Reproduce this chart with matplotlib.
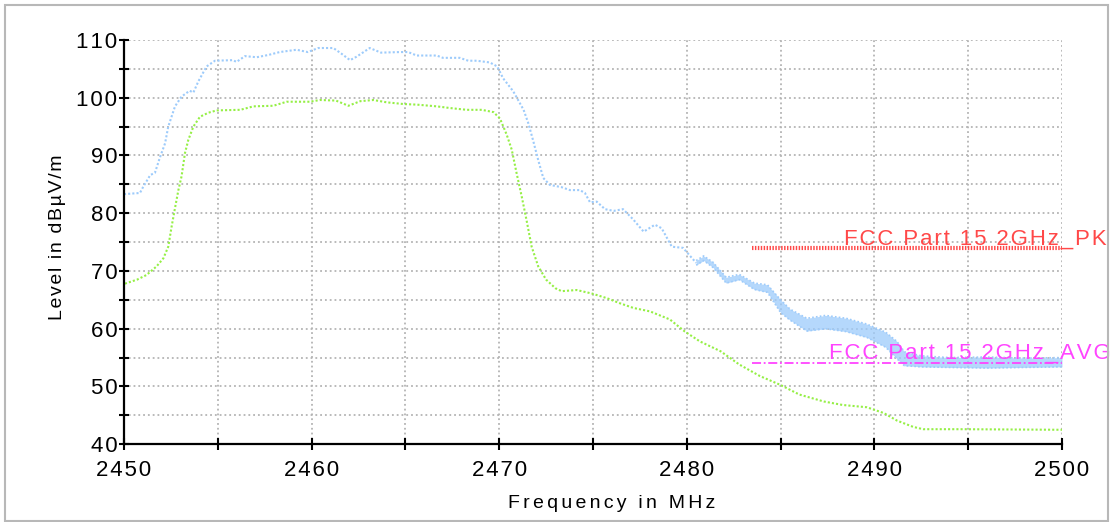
import numpy as np
import matplotlib.pyplot as plt
from matplotlib.patches import Rectangle
from matplotlib.ticker import MultipleLocator, FuncFormatter

plt.rcParams['font.family'] = ['Liberation Sans', 'DejaVu Sans']

# peak detector trace (MHz, dBuV/m), single sweep part
pk_freq = [2450.0, 2450.85, 2451.03, 2451.4, 2451.65, 2451.9, 2452.19, 2452.36, 2452.72, 2453.07,
           2453.5, 2453.7, 2453.96, 2454.4, 2454.85, 2455.8, 2456.0, 2456.45, 2457.07, 2457.7,
           2458.3, 2459.2, 2459.8, 2460.35, 2461.16, 2461.6, 2462.05, 2462.4, 2463.1, 2463.7,
           2464.7, 2465.15, 2465.6, 2466.67, 2467.0, 2467.9, 2468.35, 2468.8, 2469.5, 2469.9,
           2470.2, 2470.75, 2471.3, 2471.55, 2471.8, 2472.08, 2472.35, 2472.7, 2473.33, 2473.77,
           2474.3, 2474.57, 2474.84, 2475.2, 2475.64, 2476.1, 2476.6, 2477.15, 2477.7, 2478.3,
           2478.66, 2479.2, 2479.8, 2480.5]
pk_level = [83.3, 83.5, 84.6, 86.6, 87.0, 89.5, 92.1, 95.0, 98.5, 100.2,
            101.2, 100.9, 102.8, 105.4, 106.4, 106.5, 106.2, 107.2, 107.0, 107.4,
            107.9, 108.3, 107.9, 108.6, 108.6, 107.6, 106.5, 107.1, 108.6, 107.8,
            107.9, 107.9, 107.3, 107.3, 106.9, 106.9, 106.4, 106.4, 106.1, 105.4,
            103.4, 101.1, 97.9, 95.6, 92.7, 89.2, 86.1, 84.9, 84.5, 84.0,
            84.0, 83.5, 81.9, 82.0, 80.7, 80.4, 80.7, 78.9, 76.8, 78.0,
            77.4, 74.2, 74.0, 71.4]

# noisy part of the peak trace: upper / lower envelope
band_freq = [2480.5, 2480.9, 2481.4, 2482.1, 2482.8, 2483.6, 2484.3, 2485.0, 2485.5, 2486.4,
             2487.4, 2488.5, 2489.6, 2490.6, 2491.2, 2491.6, 2492.5, 2494.0, 2496.0, 2498.0, 2500.0]
band_hi = [71.8, 72.6, 71.5, 68.9, 69.4, 67.9, 67.6, 65.0, 63.4, 61.8,
           62.3, 61.8, 60.8, 59.4, 57.8, 56.0, 55.3, 55.0, 55.1, 54.9, 55.0]
band_lo = [71.0, 71.8, 70.6, 67.9, 68.5, 66.8, 66.3, 62.8, 61.5, 59.6,
           60.0, 59.5, 58.5, 56.8, 54.8, 53.6, 53.4, 53.3, 53.2, 53.3, 53.4]

# average detector trace
av_freq = [2450.05, 2450.7, 2451.2, 2451.74, 2452.1, 2452.36, 2452.54, 2452.72, 2452.9, 2453.07,
           2453.25, 2453.43, 2453.7, 2454.05, 2454.5, 2454.94, 2456.2, 2456.9, 2457.96, 2458.67,
           2459.9, 2460.45, 2461.3, 2461.96, 2462.6, 2463.3, 2464.0, 2464.9, 2465.6, 2466.67,
           2467.4, 2468.27, 2469.07, 2469.7, 2470.04, 2470.4, 2470.67, 2470.93, 2471.2, 2471.47,
           2471.73, 2472.08, 2472.5, 2473.0, 2473.33, 2474.13, 2474.93, 2475.73, 2476.44, 2477.15,
           2478.04, 2479.1, 2479.9, 2480.7, 2481.8, 2482.8, 2483.9, 2484.97, 2486.0, 2487.3,
           2488.3, 2489.6, 2490.5, 2491.2, 2492.07, 2492.6, 2494.7, 2500.0]
av_level = [67.8, 68.5, 69.3, 70.8, 72.2, 74.2, 77.7, 80.9, 84.0, 86.4,
            90.4, 92.7, 95.0, 96.7, 97.4, 97.8, 97.9, 98.5, 98.6, 99.3,
            99.3, 99.6, 99.5, 98.6, 99.4, 99.6, 99.2, 98.9, 98.8, 98.5,
            98.2, 97.9, 97.9, 97.5, 96.4, 93.6, 91.0, 86.9, 82.9, 78.6,
            74.2, 70.8, 68.5, 67.0, 66.5, 66.7, 66.1, 65.3, 64.4, 63.6,
            63.0, 61.6, 59.5, 57.8, 56.1, 53.8, 51.8, 50.3, 48.6, 47.4,
            46.8, 46.4, 45.4, 44.1, 43.0, 42.6, 42.6, 42.5]

# limit lines
limit_freq = [2483.5, 2500.0]
limit_pk = [74.0, 74.0]
limit_av = [54.0, 54.0]
limit_pk_name = "FCC Part 15 2GHz_PK"
limit_av_name = "FCC Part 15 2GHz_AVG"

blue = '#9dcbfb'
green = '#95ef45'
red = '#ff4848'
magenta = '#ff44ff'


def spaced(s, gap='\u200a'):
    # widen the text a little, like the analyzer software does
    return gap.join(s)


fig = plt.figure(figsize=(11.16, 5.22), dpi=100)
ax = fig.add_axes([0.1111, 0.149, 0.8405, 0.7745])

ax.plot(pk_freq, pk_level, color=blue, lw=1.5, ls=(0, (1, 1)))
ax.fill_between(band_freq, band_lo, band_hi, color=blue, lw=0, alpha=0.75)
ax.plot(band_freq, band_hi, color=blue, lw=1.2, ls=(0, (1, 1.3)))
ax.plot(band_freq, band_lo, color=blue, lw=1.2, ls=(0, (1, 1.3)))
ax.plot(av_freq, av_level, color=green, lw=1.5, ls=(0, (1, 1)))

ax.plot(limit_freq, limit_pk, color=red, lw=3, ls=(0, (0.35, 0.35)))
ax.plot(limit_freq, limit_av, color=magenta, lw=1.3, ls=(0, (5, 1.5, 1, 1.5)))
ax.text(2502.4, limit_pk[0] + 0.6, spaced(limit_pk_name), color=red, fontsize=16,
        ha='right', va='baseline', clip_on=False)
ax.text(2502.6, limit_av[0] + 0.8, spaced(limit_av_name), color=magenta, fontsize=16,
        ha='right', va='baseline', clip_on=False)

ax.set_xlim(2450, 2500)
ax.set_ylim(40, 110)
ax.xaxis.set_major_locator(MultipleLocator(10))
ax.xaxis.set_minor_locator(MultipleLocator(5))
ax.yaxis.set_major_locator(MultipleLocator(10))
ax.yaxis.set_minor_locator(MultipleLocator(5))
ax.xaxis.set_major_formatter(FuncFormatter(lambda v, p: spaced(f"{v:.0f}")))
ax.yaxis.set_major_formatter(FuncFormatter(lambda v, p: spaced(f"{v:.0f}")))

ax.grid(True, which='both', color='#b4b4b4', ls=':', lw=1.3)
ax.set_axisbelow(True)
for side in ['top', 'right']:
    ax.spines[side].set_visible(False)
for side in ['left', 'bottom']:
    ax.spines[side].set_linewidth(1.6)
    ax.spines[side].set_color('black')

ax.tick_params(which='both', direction='inout', width=1.5, color='black')
ax.tick_params(axis='y', which='both', length=7.5, pad=1, labelsize=16)
ax.tick_params(axis='x', which='both', length=9, pad=7, labelsize=16)

ax.set_xlabel(spaced("Frequency in MHz", '\u2006'), fontsize=14)
ax.set_ylabel(spaced("Level in dBµV/m", '\u200a'), fontsize=14)
ax.xaxis.set_label_coords(0.52, -0.125)
ax.yaxis.set_label_coords(-0.062, 0.512)

fig.patches.append(Rectangle((5 / 1116, 1 / 522), 1103 / 1116, 516 / 522,
                             transform=fig.transFigure, fill=False,
                             edgecolor='#b8b8b8', lw=1.5))

fig.savefig("out.png", dpi=100)
